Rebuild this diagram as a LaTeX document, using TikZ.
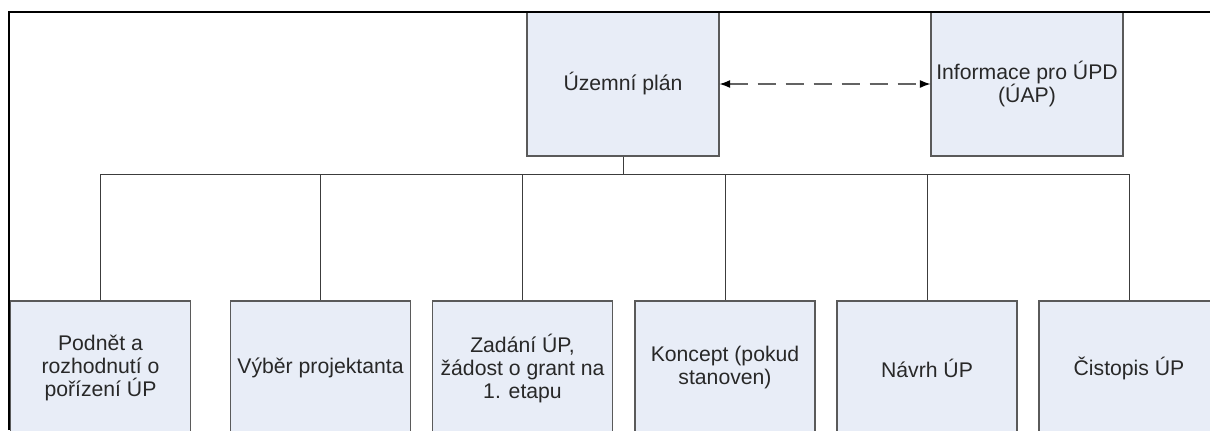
\documentclass[tikz,border=0pt]{standalone}
\usepackage{fontspec}
\setmainfont{Liberation Sans}
\usetikzlibrary{arrows.meta}
\definecolor{boxfill}{RGB}{232,237,247}
\definecolor{boxline}{RGB}{90,90,90}
\definecolor{wire}{RGB}{60,60,60}
\definecolor{txt}{RGB}{40,40,40}
\tikzset{
  plan/.style={draw=boxline, line width=0.8pt, fill=boxfill, text=txt,
    align=center, inner sep=2pt,
    font=\fontsize{15.9}{17.25}\selectfont},
  bigbox/.style={plan, minimum width=144pt, minimum height=108pt},
  stagebox/.style={plan, minimum width=135pt, minimum height=100.5pt},
  tie/.style={draw=wire, line width=0.75pt},
  link/.style={draw=wire!80, line width=0.9pt, dash pattern=on 14pt off 7pt,
    {Latex[black,length=8pt,width=6pt]}-{Latex[black,length=8pt,width=6pt]}}
}
\begin{document}
\begin{tikzpicture}[x=0.75pt,y=-0.75pt]
  \useasboundingbox (0,0) rectangle (1210,430);
  \begin{scope}
    \clip (0,0) rectangle (1210,430);

    % top level
    \node[bigbox] (top)  at (623,84)  {Územní plán};
    \node[bigbox] (info) at (1027,84) {Informace pro ÚPD\\(ÚAP)};

    % stages
    \node[stagebox] (s1) at (100.5,368) {Podnět a\\rozhodnutí o\\pořízení ÚP};
    \node[stagebox] (s2) at (320.5,368) {Výběr projektanta};
    \node[stagebox] (s3) at (522.5,368) {Zadání ÚP,\\žádost o grant na\\1. etapu};
    \node[stagebox] (s4) at (725,368)   {Koncept (pokud\\stanoven)};
    \node[stagebox] (s5) at (927,368)   {Návrh ÚP};
    \node[stagebox] (s6) at (1129,368)  {Čistopis ÚP};

    % tree connectors
    \coordinate (bus) at (623,174);
    \draw[tie] (top.south) -- (bus);
    \foreach \s in {s1,s2,s3,s4,s5,s6}
      \draw[tie] (bus) -| (\s.north);

    % link between the plan and the information
    \draw[link] (top.east) -- (info.west);

    % frame
    \draw[black, line width=1.6pt] (9,430) -- (9,12) -- (1215,12);
  \end{scope}
\end{tikzpicture}
\end{document}
